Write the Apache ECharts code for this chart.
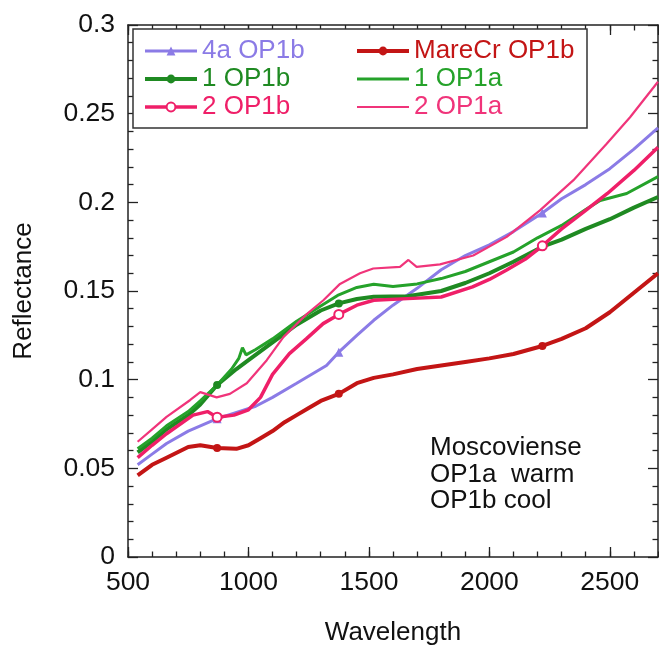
<!DOCTYPE html>
<html><head><meta charset="utf-8">
<script src="https://cdn.jsdelivr.net/npm/echarts@6/dist/echarts.min.js"></script>
<style>html,body{margin:0;padding:0;background:#fff}#c{width:659px;height:645px}</style>
</head><body><div id="c"></div>
<script>
// ---- data ----
const markerWavelengths = [870, 1375, 2220];

const wl4a   = [540,600,660,750,870,960,1030,1100,1200,1324,1375,1450,1520,1600,1700,1800,1900,2000,2100,2220,2300,2400,2500,2600,2700];
const refl4a = [0.052,0.058,0.064,0.071,0.078,0.082,0.085,0.090,0.098,0.108,0.1155,0.125,0.1335,0.142,0.1515,0.162,0.170,0.176,0.1835,0.194,0.202,0.210,0.219,0.230,0.242];

const wlMare   = [540,600,660,750,800,870,950,1000,1050,1100,1150,1200,1250,1300,1375,1450,1520,1600,1700,1800,1900,2000,2100,2220,2300,2400,2500,2600,2700];
const reflMare = [0.046,0.052,0.056,0.062,0.063,0.0615,0.061,0.063,0.067,0.071,0.076,0.080,0.084,0.088,0.092,0.098,0.101,0.103,0.106,0.108,0.110,0.112,0.1145,0.119,0.123,0.129,0.138,0.149,0.160];

const wl1b   = [540,600,660,750,800,870,950,1000,1100,1200,1300,1375,1450,1520,1660,1800,1900,2000,2100,2220,2300,2400,2500,2600,2700];
const refl1b = [0.059,0.065,0.072,0.080,0.086,0.097,0.106,0.111,0.121,0.131,0.139,0.143,0.1455,0.1467,0.147,0.150,0.1545,0.160,0.1665,0.175,0.179,0.185,0.1905,0.197,0.203];

const wl1a   = [540,600,660,750,800,870,930,960,975,990,1030,1100,1200,1300,1370,1450,1520,1600,1700,1800,1900,2000,2100,2200,2300,2400,2460,2570,2700];
const refl1a = [0.061,0.067,0.074,0.082,0.088,0.097,0.106,0.112,0.118,0.114,0.117,0.123,0.133,0.1415,0.1475,0.152,0.1538,0.1525,0.154,0.157,0.161,0.1665,0.172,0.180,0.187,0.196,0.201,0.205,0.2145];

const wl2b   = [540,600,660,770,830,870,940,1000,1050,1100,1170,1240,1310,1375,1450,1520,1660,1800,1930,2000,2070,2150,2220,2300,2400,2490,2600,2700];
const refl2b = [0.056,0.063,0.0695,0.080,0.082,0.0788,0.080,0.083,0.090,0.103,0.1147,0.123,0.1316,0.1368,0.142,0.1448,0.1457,0.1466,0.1523,0.1565,0.1617,0.168,0.1755,0.185,0.1955,0.205,0.218,0.231];

const wl2a   = [540,600,660,757,800,868,923,993,1076,1145,1242,1311,1380,1463,1518,1629,1664,1698,1795,1933,2072,2210,2349,2487,2584,2700];
const refl2a = [0.065,0.072,0.079,0.0884,0.093,0.090,0.092,0.098,0.111,0.124,0.137,0.1448,0.154,0.160,0.1627,0.1636,0.1675,0.1636,0.165,0.170,0.1805,0.1955,0.2125,0.233,0.248,0.268];

const seriesNames = ['4a OP1b','MareCr OP1b','1 OP1b','1 OP1a','2 OP1b','2 OP1a'];
const annotationLines = ['Moscoviense','OP1a  warm','OP1b cool'];

// ---- styling ----
const FONT = '"Liberation Sans", Arial, Helvetica, sans-serif';
const C = {
  purple: '#8b7be6', red: '#c31515', dgreen: '#1f8a22', lgreen: '#25a22a',
  pinkB: '#ef1f68', pinkA: '#f0347a'
};

function build(wl, r, withMarkers) {
  return wl.map((w, i) => (withMarkers && markerWavelengths.includes(w))
    ? [w, r[i]] : { value: [w, r[i]], symbol: 'none' });
}

function lineSeries(name, wl, r, color, width, symbol, symbolSize, extraItem) {
  const withMarkers = symbol !== null;
  return {
    name, type: 'line', xAxisIndex: 0, yAxisIndex: 0,
    data: build(wl, r, withMarkers),
    symbol: withMarkers ? symbol : 'circle',
    symbolSize: symbolSize,
    showSymbol: withMarkers,
    lineStyle: { color, width },
    itemStyle: Object.assign({ color, borderWidth: 0 }, extraItem || {}),
    emphasis: { disabled: true },
    silent: true, smooth: false
  };
}

const series = [
  lineSeries(seriesNames[0], wl4a, refl4a, C.purple, 3, 'triangle', 9),
  lineSeries(seriesNames[1], wlMare, reflMare, C.red, 4, 'circle', 8),
  lineSeries(seriesNames[2], wl1b, refl1b, C.dgreen, 4, 'circle', 8),
  lineSeries(seriesNames[3], wl1a, refl1a, C.lgreen, 3, null, 0),
  lineSeries(seriesNames[4], wl2b, refl2b, C.pinkB, 3.5, 'emptyCircle', 9, { borderWidth: 1.2, borderColor: '#f6a3c0' }),
  lineSeries(seriesNames[5], wl2a, refl2a, C.pinkA, 2.2, null, 0)
];

const axisLine = { show: true, lineStyle: { color: '#222', width: 1.5 } };
const tickStyle = { color: '#222', width: 1.3 };
const LABEL_SIZE = 26.5;

function xAx(pos, interval, len, line, labels) {
  return {
    type: 'value', position: pos, min: 500, max: 2700, interval,
    axisLine: line ? axisLine : { show: false },
    axisTick: { show: true, inside: true, length: len, lineStyle: tickStyle },
    axisLabel: labels ? { show: true, fontSize: LABEL_SIZE, color: '#111', fontFamily: FONT, margin: 12, showMaxLabel: false,
                          formatter: v => String(v) } : { show: false },
    splitLine: { show: false }, minorTick: { show: false }
  };
}
function yAx(pos, labels) {
  return {
    type: 'value', position: pos, min: 0, max: 0.3, interval: 0.05,
    axisLine,
    axisTick: { show: true, inside: true, length: 10, lineStyle: tickStyle },
    minorTick: { show: true, splitNumber: 5, length: 5.5, lineStyle: tickStyle },
    axisLabel: labels ? { show: true, fontSize: LABEL_SIZE, color: '#111', fontFamily: FONT, margin: 13 } : { show: false },
    splitLine: { show: false }
  };
}

const xAxis = [
  Object.assign(xAx('bottom', 500, 10, true, true), {
    name: 'Wavelength', nameLocation: 'middle', nameGap: 63,
    nameTextStyle: { fontSize: 26, color: '#111', fontFamily: FONT }
  }),
  xAx('bottom', 100, 5.5, false, false),
  xAx('top', 500, 10, true, false),
  xAx('top', 100, 5.5, false, false)
];
const yAxis = [
  Object.assign(yAx('left', true), {
    name: 'Reflectance', nameLocation: 'middle', nameGap: 91, nameRotate: 90,
    nameTextStyle: { fontSize: 26, color: '#111', fontFamily: FONT }
  }),
  yAx('right', false)
];

function legendItem(name, color, hideSymbol) {
  const it = { name, textStyle: { color } };
  if (hideSymbol) it.itemStyle = { opacity: 0 };
  return it;
}
const legendCommon = {
  orient: 'vertical', top: 38, padding: 0, itemWidth: 52, itemHeight: 11, itemGap: 2,
  selectedMode: false,
  textStyle: { fontSize: 26, lineHeight: 26, fontFamily: FONT },
  lineStyle: { width: 'inherit' }
};

const option = {
  animation: false,
  backgroundColor: '#fff',
  grid: { left: 128, right: 1, top: 25, bottom: 88, containLabel: false, outerBoundsMode: 'none' },
  xAxis, yAxis,
  legend: [
    Object.assign({}, legendCommon, { left: 143, data: [
      legendItem(seriesNames[0], C.purple), legendItem(seriesNames[2], C.dgreen), legendItem(seriesNames[4], C.pinkB)
    ]}),
    Object.assign({}, legendCommon, { left: 355, data: [
      legendItem(seriesNames[1], C.red), legendItem(seriesNames[3], C.lgreen, true), legendItem(seriesNames[5], C.pinkA, true)
    ]})
  ],
  graphic: [
    { type: 'rect', z: 3, shape: { x: 133, y: 29, width: 454, height: 99 },
      style: { fill: '#fff', stroke: '#333', lineWidth: 1.5 } },
    { type: 'text', z: 5, left: 430, top: 435,
      style: { text: annotationLines.join('\n'), fontSize: 26, fontFamily: FONT, fill: '#111', lineHeight: 26.5 } }
  ],
  series
};

const chart = echarts.init(document.getElementById('c'), null, { renderer: 'canvas' });
chart.setOption(option);
</script>
</body></html>
